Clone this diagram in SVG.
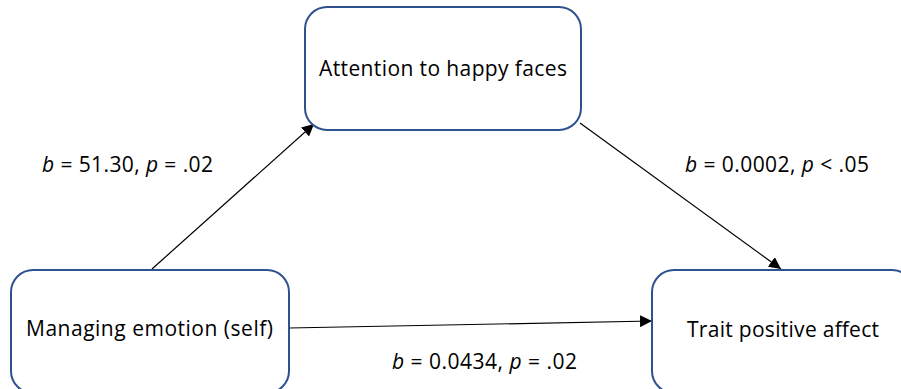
<svg xmlns="http://www.w3.org/2000/svg" width="901" height="389" viewBox="0 0 901 389">
<style>
.box{fill:#fff;stroke:#2F528F;stroke-width:2}
.t{font-family:"Open Sans","Liberation Sans",Arial,sans-serif;font-size:21px;fill:#000;text-anchor:middle}
.e{fill:none;stroke:#000;stroke-width:1.2}
</style>
<defs>
<marker id="ah" viewBox="0 0 10 10" refX="10" refY="5" markerWidth="12" markerHeight="12" markerUnits="userSpaceOnUse" orient="auto">
<path d="M0,0 L10,5 L0,10 z" fill="#000"/>
</marker>
</defs>
<rect width="901" height="389" fill="#fff"/>
<g id="edges">
<line class="e" x1="152" y1="269" x2="314" y2="124" marker-end="url(#ah)"/>
<line class="e" x1="580" y1="123" x2="781" y2="269" marker-end="url(#ah)"/>
<line class="e" x1="289" y1="328" x2="652" y2="321" marker-end="url(#ah)"/>
<text class="t" x="127.5" y="172" textLength="171"><tspan font-style="italic">b</tspan> = 51.30, <tspan font-style="italic">p</tspan> = .02</text>
<text class="t" x="777" y="172" textLength="184"><tspan font-style="italic">b</tspan> = 0.0002, <tspan font-style="italic">p</tspan> &lt; .05</text>
<text class="t" x="484.5" y="369" textLength="185"><tspan font-style="italic">b</tspan> = 0.0434, <tspan font-style="italic">p</tspan> = .02</text>
</g>
<g id="n-attention">
<rect class="box" x="305" y="7" width="276" height="123" rx="22"/>
<text class="t" x="443" y="76" textLength="248">Attention to happy faces</text>
</g>
<g id="n-managing">
<rect class="box" x="11" y="270" width="278" height="123" rx="22"/>
<text class="t" x="149.5" y="336" textLength="247">Managing emotion (self)</text>
</g>
<g id="n-trait">
<rect class="box" x="652" y="270" width="262" height="123" rx="22"/>
<text class="t" x="783" y="337" textLength="192">Trait positive affect</text>
</g>
</svg>
